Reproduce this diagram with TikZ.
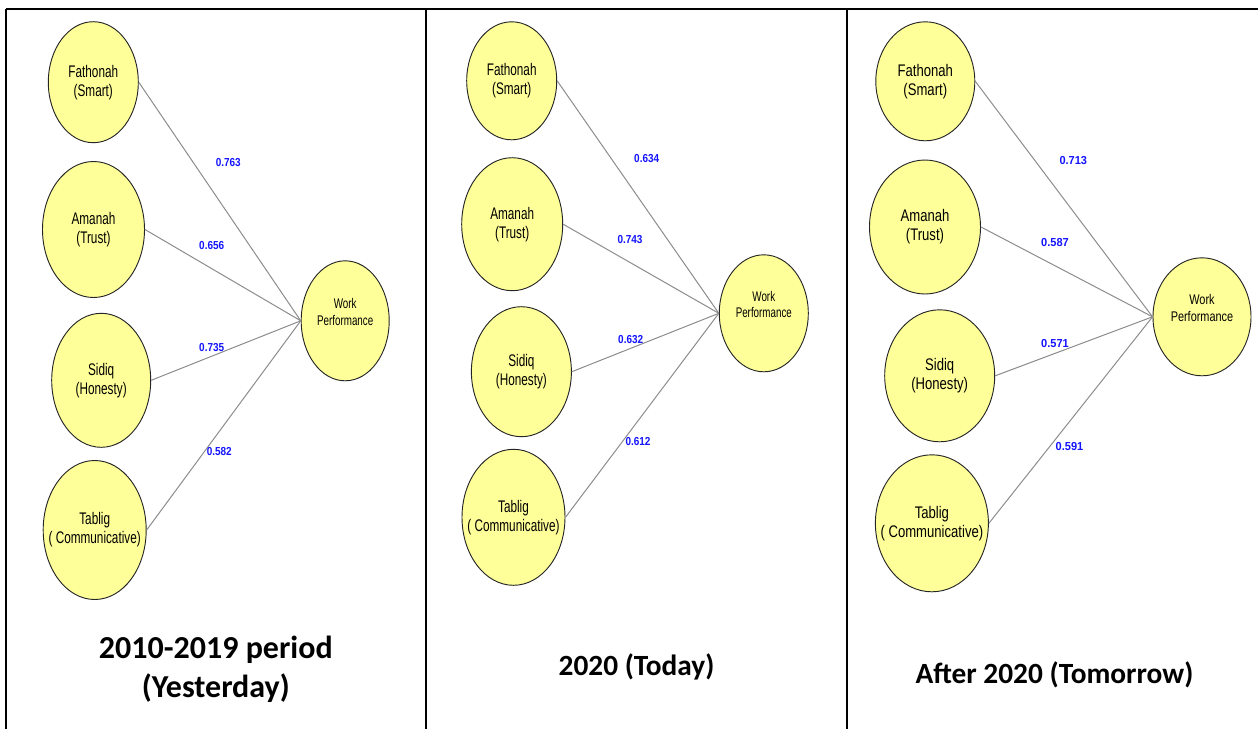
\documentclass[tikz,border=0pt]{standalone}
\usepackage{fontspec}
\usetikzlibrary{shapes.geometric}
\newfontfamily\ovalfont[FakeStretch=0.70]{Liberation Sans}
\newfontfamily\ovalfontw[FakeStretch=0.78]{Liberation Sans}
\newfontfamily\loadfont[FakeStretch=0.86]{Liberation Sans}
\newfontfamily\loadfontw[FakeStretch=0.95]{Liberation Sans}
\newfontfamily\titlefont{Carlito}
\definecolor{ovalfill}{RGB}{255,255,153}
\definecolor{loadblue}{RGB}{20,20,255}
\begin{document}
\begin{tikzpicture}[
    x=0.75pt, y=-0.75pt,
    latent/.style={ellipse, draw=black!85, fill=ovalfill, line width=0.7pt, inner ysep=0pt, inner xsep=-15pt, align=center,
                   font={\ovalfont\fontsize{12.6}{14.3}\selectfont}},
    latentw/.style={latent, font={\ovalfontw\fontsize{12.6}{14.3}\selectfont}},
    target/.style={latent, text depth=13.5pt, font={\ovalfont\fontsize{10.5}{12.5}\selectfont}},
    targetw/.style={target, font={\ovalfontw\fontsize{10.5}{12.5}\selectfont}},
    oval/.style 2 args={minimum width=#1*0.75pt, minimum height=#2*0.75pt},
    load/.style={text=loadblue, inner sep=0pt, font={\loadfont\bfseries\fontsize{8.7}{10}\selectfont}},
    loadw/.style={load, font={\loadfontw\bfseries\fontsize{8.7}{10}\selectfont}},
    link/.style={draw=black!45, line width=0.75pt},
    frame/.style={draw=black, line width=1.5pt},
    period/.style={align=center, inner sep=0pt, font={\titlefont\bfseries\fontsize{22}{27.5}\selectfont}}
]
  \useasboundingbox (0,0) rectangle (1258,729);
  % table frame
  \coordinate (c0) at (6,8.6);
  \coordinate (c1) at (1258,8.6);
  \draw[frame] (c0) -- (c1);
  \foreach \i/\x in {0/6, 1/425.5, 2/847} {
    \coordinate (u\i) at (\x,8.6);
    \coordinate (d\i) at (\x,729);
    \draw[frame] (u\i) -- (d\i);
  }
  % 2010-2019
  \foreach \n/\x/\y/\w/\h/\txt in {f1/93.3/82.2/90/121/Fathonah\\(Smart), a1/93.5/229.5/102/136/Amanah\\(Trust),
      s1/101.2/380.3/99/134/Sidiq\\(Honesty), t1/94.7/530/103/139/Tablig\\( Communicative)} {
    \node[latent, oval={\w}{\h}] (\n) at (\x,\y) {\txt};
  }
  \node[target, oval={88}{120}] (w1) at (345.2,320.8) {Work\\Performance};
  \foreach \n in {f1,a1,s1,t1} {
    \draw[link] (\n.east) -- (w1.west);
  }
  \node[load] (l11) at (228.3,162.3) {0.763};
  \node[load] (l12) at (211.7,245.7) {0.656};
  \node[load] (l13) at (211.7,347.3) {0.735};
  \node[load] (l14) at (219.3,451.7) {0.582};
  \node[period, font={\titlefont\bfseries\fontsize{24}{29.5}\selectfont}] (p1) at (215.8,669) {2010-2019 period\\(Yesterday)};
  % 2020
  \foreach \n/\x/\y/\w/\h/\txt in {f2/511.7/80.8/90/118/Fathonah\\(Smart), a2/512.2/224.2/101/133/Amanah\\(Trust),
      s2/521.4/371.7/100/130/Sidiq\\(Honesty), t2/513.5/517.3/103/136/Tablig\\( Communicative)} {
    \node[latent, oval={\w}{\h}] (\n) at (\x,\y) {\txt};
  }
  \node[target, oval={89}{117}] (w2) at (763.8,313.3) {Work\\Performance};
  \foreach \n in {f2,a2,s2,t2} {
    \draw[link] (\n.east) -- (w2.west);
  }
  \node[load] (l21) at (646.7,159) {0.634};
  \node[load] (l22) at (630,240) {0.743};
  \node[load] (l23) at (630.7,339.3) {0.632};
  \node[load] (l24) at (638,441) {0.612};
  \node[period] (p2) at (636.5,667) {2020 (Today)};
  % after 2020
  \foreach \n/\x/\y/\w/\h/\txt in {f3/925.3/81.3/99/119/Fathonah\\(Smart), a3/925/227/111/134/Amanah\\(Trust),
      s3/939.7/375.8/110/132/Sidiq\\(Honesty), t3/931.9/523.3/113/137/Tablig\\( Communicative)} {
    \node[latentw, oval={\w}{\h}] (\n) at (\x,\y) {\txt};
  }
  \node[targetw, oval={98}{118}] (w3) at (1202,316.8) {Work\\Performance};
  \foreach \n in {f3,a3,s3,t3} {
    \draw[link] (\n.east) -- (w3.west);
  }
  \node[loadw] (l31) at (1073.3,160.7) {0.713};
  \node[loadw] (l32) at (1055,242.3) {0.587};
  \node[loadw] (l33) at (1055,343.3) {0.571};
  \node[loadw] (l34) at (1069.5,446) {0.591};
  \node[period] (p3) at (1054.5,675) {After 2020 (Tomorrow)};
\end{tikzpicture}
\end{document}
